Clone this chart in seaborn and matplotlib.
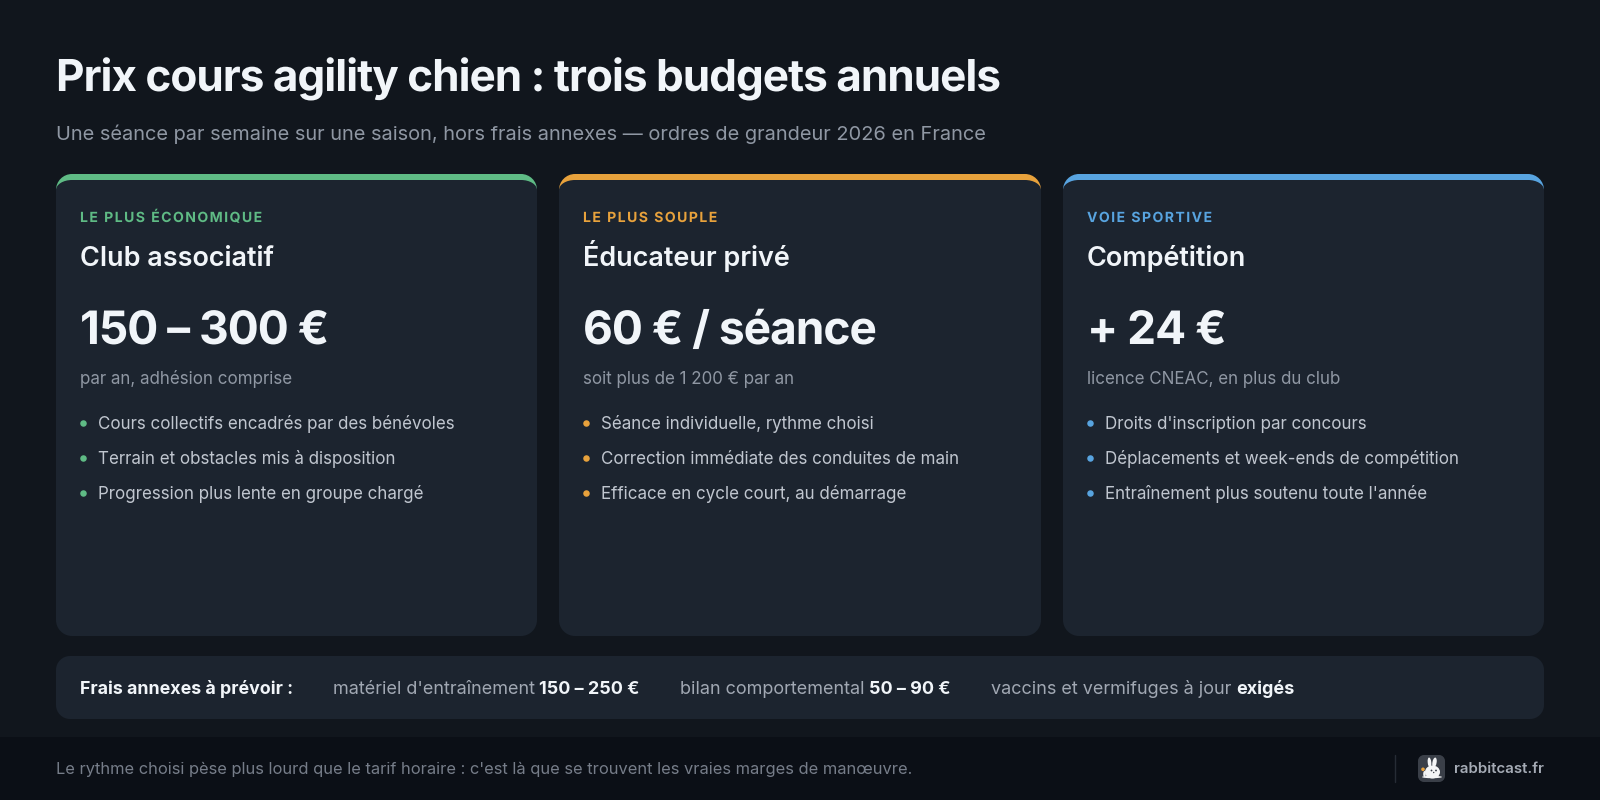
import matplotlib
matplotlib.use("Agg")
import matplotlib.pyplot as plt
import seaborn as sns
from matplotlib.patches import PathPatch, Ellipse, Circle
from matplotlib.path import Path
from matplotlib.text import Text
from matplotlib.textpath import TextPath
from matplotlib.transforms import Affine2D

title = "Prix cours agility chien : trois budgets annuels"
subtitle = "Une séance par semaine sur une saison, hors frais annexes — ordres de grandeur 2026 en France"

tags = ["LE PLUS ÉCONOMIQUE", "LE PLUS SOUPLE", "VOIE SPORTIVE"]
names = ["Club associatif", "Éducateur privé", "Compétition"]
prices = ["150 – 300 €", "60 € / séance", "+ 24 €"]
price_notes = ["par an, adhésion comprise", "soit plus de 1 200 € par an", "licence CNEAC, en plus du club"]
bullets = [
    ["Cours collectifs encadrés par des bénévoles", "Terrain et obstacles mis à disposition", "Progression plus lente en groupe chargé"],
    ["Séance individuelle, rythme choisi", "Correction immédiate des conduites de main", "Efficace en cycle court, au démarrage"],
    ["Droits d'inscription par concours", "Déplacements et week-ends de compétition", "Entraînement plus soutenu toute l'année"],
]
accents = ["#5fbb85", "#e8a23c", "#58a4e0"]

extras_label = "Frais annexes à prévoir :"
extras_items = ["matériel d'entraînement", "bilan comportemental", "vaccins et vermifuges à jour"]
extras_values = ["150 – 250 €", "50 – 90 €", "exigés"]

footer = "Le rythme choisi pèse plus lourd que le tarif horaire : c'est là que se trouvent les vraies marges de manœuvre."
brand = "rabbitcast.fr"

sns.set_theme(style="dark")
plt.rcParams["font.family"] = ["Inter", "DejaVu Sans"]


class TrackedText(Text):
    # one text artist, drawn with css-like letter spacing (track is in pixels)
    def __init__(self, *args, track=0, **kwargs):
        super().__init__(*args, **kwargs)
        self.track = track

    def _advance(self, prefix, px):
        if not prefix:
            return 0
        fp = self.get_fontproperties()
        with_bar = TextPath((0, 0), prefix + "|", size=px, prop=fp).get_extents().x1
        return with_bar - TextPath((0, 0), "|", size=px, prop=fp).get_extents().x1

    def draw(self, renderer):
        s = self.get_text()
        fp = self.get_fontproperties()
        px = fp.get_size_in_points() * self.figure.dpi / 72
        parts = []
        for i, ch in enumerate(s):
            if ch != " ":
                parts.append(TextPath((self._advance(s[:i], px) + i * self.track, 0), ch, size=px, prop=fp))
        x, y = self.get_transform().transform(self.get_position())
        glyphs = PathPatch(Path.make_compound_path(*parts), facecolor=self.get_color(), edgecolor="none",
                           transform=Affine2D().translate(x, y))
        glyphs.set_figure(self.figure)
        glyphs.draw(renderer)

    def get_window_extent(self, renderer=None, dpi=None):
        bbox = super().get_window_extent(renderer, dpi)
        bbox.x1 += self.track * (len(self.get_text()) - 1)
        return bbox


def rounded(x0, y0, x1, y1, rx_top, ry_top, r_bottom):
    k = 0.5523
    verts = [
        (x0, y0 + ry_top),
        (x0, y0 + ry_top * (1 - k)), (x0 + rx_top * (1 - k), y0), (x0 + rx_top, y0),
        (x1 - rx_top, y0),
        (x1 - rx_top * (1 - k), y0), (x1, y0 + ry_top * (1 - k)), (x1, y0 + ry_top),
        (x1, y1 - r_bottom),
        (x1, y1 - r_bottom * (1 - k)), (x1 - r_bottom * (1 - k), y1), (x1 - r_bottom, y1),
        (x0 + r_bottom, y1),
        (x0 + r_bottom * (1 - k), y1), (x0, y1 - r_bottom * (1 - k)), (x0, y1 - r_bottom),
        (x0, y0 + ry_top),
    ]
    codes = [Path.MOVETO, Path.CURVE4, Path.CURVE4, Path.CURVE4, Path.LINETO, Path.CURVE4, Path.CURVE4, Path.CURVE4,
             Path.LINETO, Path.CURVE4, Path.CURVE4, Path.CURVE4, Path.LINETO, Path.CURVE4, Path.CURVE4, Path.CURVE4,
             Path.CLOSEPOLY]
    return Path(verts, codes)


def box(ax, x0, y0, x1, y1, color, rx_top, ry_top=None, r_bottom=None, z=1):
    ry_top = rx_top if ry_top is None else ry_top
    r_bottom = rx_top if r_bottom is None else r_bottom
    ax.add_patch(PathPatch(rounded(x0, y0, x1, y1, rx_top, ry_top, r_bottom), facecolor=color, edgecolor="none", zorder=z))


def put(ax, x, y, s, px, color, weight="normal", track=None):
    if track is None:
        return ax.text(x, y, s, fontsize=px * 0.72, color=color, fontweight=weight, va="baseline", ha="left", zorder=5)
    t = TrackedText(x, y, s, track=track, fontsize=px * 0.72, color=color, fontweight=weight, va="baseline", ha="left", zorder=5)
    ax.add_artist(t)
    t.set_transform(ax.transData)
    return t


def draw_logo(ax):
    box(ax, 1418, 755, 1445, 782, "#3a3f48", 6, z=3)
    white = "#f4f5f6"
    ax.add_patch(Ellipse((1429.5, 762.5), 3.6, 10, angle=-6, color=white, lw=0, zorder=4))
    ax.add_patch(Ellipse((1434.5, 762.5), 4.2, 10, angle=10, color=white, lw=0, zorder=4))
    ax.add_patch(Ellipse((1432.5, 772), 15, 13, color=white, lw=0, zorder=4))
    ax.add_patch(Ellipse((1432, 777), 20, 2.4, color=white, lw=0, zorder=4))
    ax.add_patch(Ellipse((1424.5, 774), 2.6, 6, color=white, lw=0, zorder=4))
    ax.add_patch(Circle((1423, 769.3), 1.8, color="#e8a23c", lw=0, zorder=4))
    ax.add_patch(Circle((1431.5, 770.5), 0.9, color="#3a3f48", lw=0, zorder=5))
    ax.add_patch(Circle((1436, 770.5), 0.9, color="#3a3f48", lw=0, zorder=5))
    ax.add_patch(Circle((1433.7, 772.5), 0.7, color="#3a3f48", lw=0, zorder=5))


fig = plt.figure(figsize=(16, 8), dpi=100, facecolor="#11161d")
ax = fig.add_axes([0, 0, 1, 1])
ax.set_xlim(0, 1600)
ax.set_ylim(800, 0)
ax.axis("off")

put(ax, 56, 91, title, 44, "#f1f5f9", "bold", track=-0.97)
put(ax, 56, 140, subtitle, 20, "#8f97a3")

card_w = (1488 - 2 * 22) / 3
for i in range(3):
    x0 = round(56 + i * (card_w + 22))
    x1 = round(56 + i * (card_w + 22) + card_w)
    box(ax, x0, 174, x1, 196, accents[i], 16, r_bottom=0, z=1)
    box(ax, x0, 180, x1, 636, "#1c242f", 16, ry_top=10, r_bottom=16, z=2)
    tx = x0 + 24
    put(ax, tx, 222, tags[i], 14, accents[i], "bold", track=1.47)
    put(ax, tx, 266, names[i], 27, "#f1f5f9", "semibold")
    put(ax, tx, 344, prices[i], 46, "#f1f5f9", "bold", track=-1.0)
    put(ax, tx, 384, price_notes[i], 17, "#8f97a3")
    ys = [423 + 35 * j for j in range(3)]
    sns.scatterplot(x=[tx + 3] * 3, y=ys, color=accents[i], s=22, linewidth=0, ax=ax, legend=False, zorder=5)
    for j, line in enumerate(bullets[i]):
        put(ax, tx + 18, ys[j] + 6, line, 17, "#c0c6cf")

box(ax, 56, 656, 1544, 719, "#1c242f", 14)
put(ax, 80, 694, extras_label, 17.8, "#f1f5f9", "bold")
for s, xs in zip(extras_items, [333, 680, 991]):
    put(ax, xs, 694, s, 18, "#a1a8b3")
for s, xs in zip(extras_values, [539, 869, 1236]):
    put(ax, xs, 694, s, 18, "#f1f5f9", "bold")

box(ax, 0, 737, 1600, 800, "#0b0f16", 0)
put(ax, 56, 774, footer, 16.45, "#767d89")
ax.plot([1395, 1395], [755, 782], color="#262c35", lw=1, zorder=3)
draw_logo(ax)
put(ax, 1454, 773, brand, 15, "#a5abb5", "semibold")

plt.savefig("out.png", dpi=100, facecolor=fig.get_facecolor())
